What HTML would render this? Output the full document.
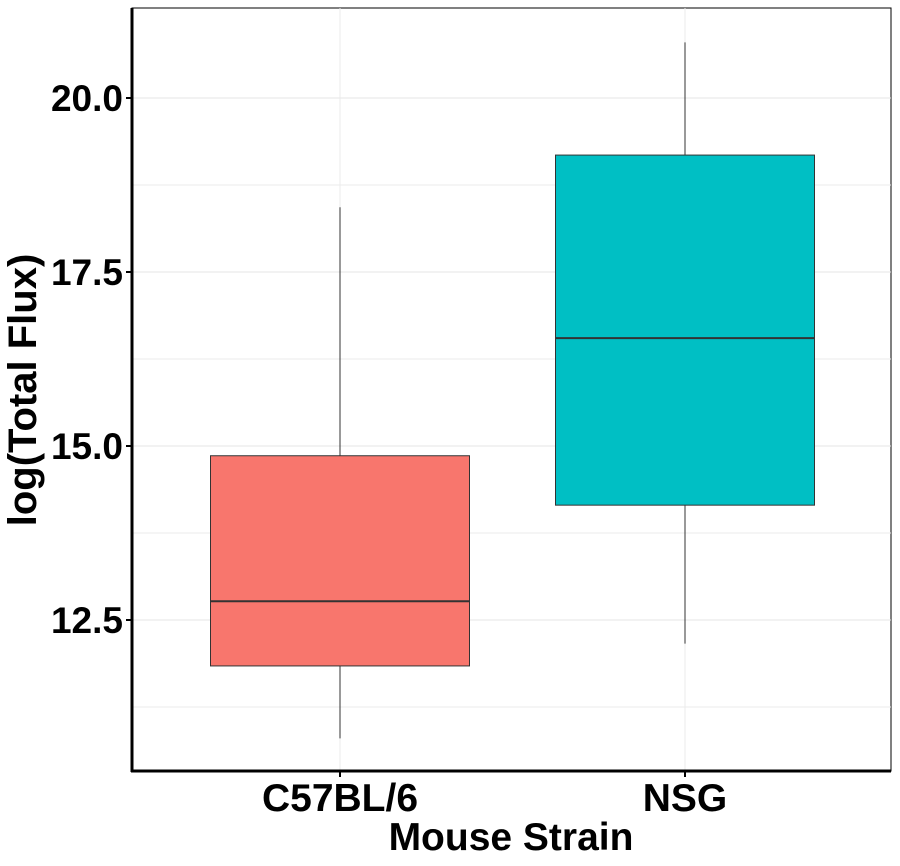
<!DOCTYPE html>
<html><head><meta charset="utf-8"><style>
body{margin:0;background:#fff;}
svg{display:block;font-family:"Liberation Sans",Arial,sans-serif;font-weight:bold;}
</style></head><body>
<svg id="chart" width="900" height="866"></svg>
<script>
const categories = ["C57BL/6", "NSG"];
const mins = [10.80, 12.16];
const q1s = [11.84, 14.15];
const medians = [12.77, 16.55];
const q3s = [14.86, 19.18];
const maxs = [18.43, 20.80];
const colors = ["#F8766D", "#00BFC4"];
const yTicks = [12.5, 15.0, 17.5, 20.0];
const yMinor = [11.25, 13.75, 16.25, 18.75];

const NS = "http://www.w3.org/2000/svg";
const svg = document.getElementById("chart");
const L = 132, R = 891, T = 8, B = 771;
function y(v){ return 98 + (20 - v) * 69.6; }
const xCenters = [340, 685];
function x(i){ return xCenters[i]; }
const bw = 259;
function mk(tag, attrs, parent){
  const e = document.createElementNS(NS, tag);
  for (const k in attrs) e.setAttribute(k, attrs[k]);
  (parent || svg).appendChild(e);
  return e;
}
let e = mk("rect",{x:L,y:T,width:R-L,height:B-T,fill:"#fff",stroke:"#000","stroke-width":1});


yMinor.forEach(v=>{
  const g = mk("line",{x1:L,x2:R,y1:y(v),y2:y(v),stroke:"#ebebeb","stroke-width":1});
  
  
});
yTicks.forEach(v=>{
  const g = mk("line",{x1:L,x2:R,y1:y(v),y2:y(v),stroke:"#e5e5e5","stroke-width":1});
  
  
  const tk = mk("line",{x1:L-6,x2:L,y1:y(v),y2:y(v),stroke:"#000","stroke-width":2});
  
  
  const t = mk("text",{x:L-9,y:y(v)+13,"text-anchor":"end","font-size":37,fill:"#000"});
  t.textContent = v.toFixed(1);
  
  
});
categories.forEach((c,i)=>{
  const g = mk("line",{x1:x(i),x2:x(i),y1:T,y2:B,stroke:"#ebebeb","stroke-width":1});
  
  
});
categories.forEach((c,i)=>{
  const w = mk("line",{x1:x(i),x2:x(i),y1:y(maxs[i]),y2:y(mins[i]),stroke:"#333","stroke-width":1});
  
  
  const b = mk("rect",{x:x(i)-bw/2,y:y(q3s[i]),width:bw,height:y(q1s[i])-y(q3s[i]),fill:colors[i],stroke:"#333","stroke-width":1});
  
  
  const m = mk("line",{x1:x(i)-bw/2,x2:x(i)+bw/2,y1:y(medians[i]),y2:y(medians[i]),stroke:"#333","stroke-width":2});
  
  
  const tk = mk("line",{x1:x(i),x2:x(i),y1:B,y2:B+6,stroke:"#000","stroke-width":2});
  
  
  const t = mk("text",{x:x(i),y:B+40,"text-anchor":"middle","font-size":39,fill:"#000"});
  t.textContent = c;
  
  
});
let a = mk("line",{x1:L,x2:L,y1:T,y2:B+1,stroke:"#000","stroke-width":3});


a = mk("line",{x1:L-1,x2:R,y1:B,y2:B,stroke:"#000","stroke-width":3});


let t = mk("text",{x:511,y:850,"text-anchor":"middle","font-size":39,fill:"#000"});
t.textContent = "Mouse Strain";


t = mk("text",{x:0,y:0,"text-anchor":"middle","font-size":40,fill:"#000",transform:"translate(36,390) rotate(-90)"});
t.textContent = "log(Total Flux)";


</script>
</body></html>
